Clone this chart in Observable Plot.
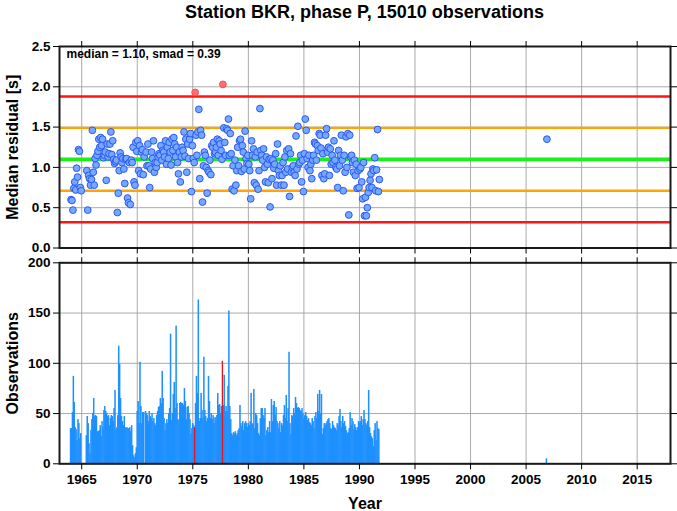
<!DOCTYPE html>
<html>
<head>
<meta charset="utf-8">
<script src="https://cdn.jsdelivr.net/npm/d3@7"></script>
<script src="https://cdn.jsdelivr.net/npm/@observablehq/plot@0.6"></script>
<style>
  html, body { margin: 0; padding: 0; background: #fff; }
  #wrap { width: 677px; height: 511px; position: relative; overflow: hidden; font-family: "Liberation Sans", Arial, Helvetica, sans-serif; }
  #title { width: 625px; padding-left: 52px; height: 26px; line-height: 25px; text-align: center; font-weight: bold; font-size: 18px; color: #000; }
  svg { display: block; }
</style>
</head>
<body>
<div id="wrap">
  <div id="title">Station BKR, phase P, 15010 observations</div>
  <div id="top"></div>
  <div id="bottom"></div>
</div>
<script>
// ---------------- DATA ----------------
const titleText = "Station BKR, phase P, 15010 observations";
const startYear = 1964;           // first month of the monthly series (Jan 1964)
const median = 1.10;
const smad = 0.39;
const xTicks = [1965, 1970, 1975, 1980, 1985, 1990, 1995, 2000, 2005, 2010, 2015];
const resTicks = [0, 0.5, 1.0, 1.5, 2.0, 2.5];
const obsTicks = [0, 50, 100, 150, 200];

// monthly median residual [s] (null = no data), Jan 1964 .. Oct 1991
const residual = [
  0.60, 0.59, 0.47, 0.74, 0.82, 0.72, 0.99, 0.88, 1.22, 1.20, 0.75, 0.71, // 1964
  null, null, null, null, null, 0.96, 0.47, 0.90, 0.86, 0.78, 0.85, 1.46, // 1965
  0.94, 0.78, 1.11, 1.03, 1.15, 1.20, 1.35, 1.25, 1.37, 1.27, 1.35, 1.12, // 1966
  1.15, 1.19, 0.84, 1.29, 1.13, 1.17, 1.29, 1.44, 1.16, 1.33, 1.10, 1.05, // 1967
  1.07, 1.09, 0.44, 0.68, 0.96, 1.18, 1.13, 1.06, 1.11, 0.98, 0.80, 1.10, // 1968
  1.11, 0.62, 0.56, 1.06, 0.54, 1.09, 1.06, 1.25, 0.82, 0.78, 1.31, 1.20, // 1969
  1.33, 0.96, 1.27, 0.92, 1.19, 1.22, 0.91, 1.13, null, 1.19, 1.02, 1.29, // 1970
  1.02, 0.75, 0.98, 1.19, 1.11, 1.33, 0.94, 1.06, 1.00, 1.06, 1.13, 1.17, // 1971
  1.15, 1.27, 1.09, 1.21, 1.19, 1.13, 1.33, 1.04, 1.25, 1.11, 1.31, 1.19, // 1972
  1.03, 1.35, 1.21, 1.37, 1.29, 1.13, 1.25, 1.06, 0.92, 1.19, 0.82, 1.13, // 1973
  1.25, 1.21, 1.44, 1.14, 1.35, 0.94, 1.29, 1.11, 1.35, 1.42, 0.70, 1.27, // 1974
  1.11, 1.06, 1.93, 1.40, 1.15, 1.44, 1.72, 0.86, 1.46, 1.40, 0.57, 1.02, // 1975
  1.19, 1.15, 1.00, 0.68, 0.96, 0.94, 1.09, 0.91, 1.27, 1.25, 1.31, 1.17, // 1976
  1.19, 1.25, 1.35, 1.15, 1.33, 1.29, 1.21, 1.10, 2.03, 1.49, 1.31, 1.15, // 1977
  1.48, 1.46, 1.60, 1.15, 1.42, 1.17, 0.73, 1.02, 0.71, 1.09, 0.78, 0.96, // 1978
  1.25, 1.02, 1.33, 1.35, 0.95, 1.27, 1.19, 0.98, 1.45, 1.11, 1.05, 1.15, // 1979
  1.04, 0.96, 0.61, 1.33, 1.15, 1.23, 0.81, 1.13, 0.78, 1.19, 0.73, 0.96, // 1980
  1.73, 1.21, 1.15, 1.09, 1.23, 1.00, 0.82, 1.13, 1.04, 0.81, 1.10, 0.51, // 1981
  1.11, 0.86, 1.09, 0.99, 1.04, 1.17, 0.78, 1.29, 0.96, 0.90, 1.02, 0.78, // 1982
  0.90, 1.06, 0.78, 1.13, 0.94, 1.21, 0.98, 1.23, 0.64, 1.17, 0.94, 1.00, // 1983
  1.02, 0.94, 0.90, 1.39, 0.98, 1.51, 1.04, 1.06, 1.15, 0.82, 1.09, 0.70, // 1984
  1.17, 1.60, 1.46, 1.11, 1.00, 1.15, 0.96, 1.04, 0.86, 1.09, 1.15, 1.31, // 1985
  1.29, 1.09, 1.27, 1.21, 1.42, 1.40, 1.24, 0.90, 1.17, 0.86, 0.92, 1.40, // 1986
  1.48, 1.19, 1.25, 0.90, 1.23, 1.04, 1.15, 1.06, 1.33, 1.09, 1.00, 0.98, // 1987
  0.75, 1.21, 1.02, 1.15, 1.40, 1.09, 0.71, 1.15, 0.94, 1.38, 1.00, 1.42, // 1988
  0.41, 1.40, 1.13, 1.15, 1.06, 0.94, 1.09, 0.90, 1.04, 0.74, 0.96, 0.75, // 1989
  0.98, 1.00, 0.82, 0.61, 1.06, 0.40, 0.63, 0.40, 0.50, 0.69, 0.75, 0.84, // 1990
  0.92, 0.75, 0.98, 0.96, 1.12, 0.71, 0.97, 1.47, 0.70, 0.85              // 1991
];

// monthly number of observations, Jan 1964 .. Oct 1991
const observations = [
  35, 35, 51, 87, 61, 36, 34, 23, 44, 40, 25, 30,   // 1964
  0, 0, 0, 0, 0, 28, 47, 40, 20, 10, 33, 44,        // 1965
  50, 65, 47, 48, 47, 32, 32, 33, 38, 27, 42, 36,   // 1966
  53, 57, 52, 50, 47, 48, 38, 45, 48, 47, 42, 55,   // 1967
  73, 34, 36, 48, 117, 99, 65, 47, 42, 38, 47, 36,  // 1968
  35, 36, 35, 35, 36, 32, 38, 18, 8, 6, 10, 16,     // 1969
  52, 62, 40, 101, 57, 40, 51, 51, 0, 52, 50, 48,   // 1970
  42, 52, 47, 45, 50, 42, 45, 40, 38, 48, 52, 56,   // 1971
  57, 65, 60, 92, 65, 45, 33, 40, 44, 40, 50, 55,   // 1972
  129, 43, 50, 69, 81, 55, 137, 60, 44, 43, 60, 61, // 1973
  60, 60, 58, 75, 62, 44, 56, 57, 50, 44, 29, 35,   // 1974
  40, 38, 36, 60, 87, 70, 163, 42, 45, 70, 53, 45,  // 1975
  106, 53, 47, 42, 45, 87, 62, 45, 50, 44, 48, 40,  // 1976
  46, 45, 48, 70, 58, 59, 50, 57, 102, 58, 88, 52,  // 1977
  57, 52, 77, 152, 57, 44, 30, 28, 31, 30, 32, 28,  // 1978
  30, 33, 35, 58, 40, 37, 42, 33, 40, 42, 40, 36,   // 1979
  40, 38, 42, 70, 40, 39, 74, 35, 50, 48, 40, 30,   // 1980
  28, 45, 55, 55, 48, 45, 55, 28, 33, 36, 31, 42,   // 1981
  31, 64, 42, 58, 62, 48, 56, 42, 40, 35, 42, 31,   // 1982
  40, 38, 48, 58, 45, 68, 42, 55, 111, 40, 29, 48,  // 1983
  47, 55, 50, 66, 60, 55, 56, 55, 53, 52, 55, 50,   // 1984
  45, 48, 51, 47, 43, 45, 41, 40, 38, 45, 42, 35,   // 1985
  47, 51, 45, 69, 52, 73, 50, 69, 29, 35, 40, 38,   // 1986
  40, 42, 44, 45, 40, 35, 34, 42, 38, 36, 35, 33,   // 1987
  40, 38, 47, 54, 42, 36, 47, 40, 42, 37, 33, 30,   // 1988
  31, 35, 51, 38, 45, 42, 34, 39, 36, 33, 36, 42,   // 1989
  40, 42, 47, 38, 44, 53, 44, 40, 38, 42, 73, 36,   // 1990
  30, 27, 25, 17, 33, 40, 23, 42, 35, 34            // 1991
];

// isolated later month
const lateYear = 2006, lateMonth = 10, lateResidual = 1.35, lateObservations = 5;

// ---------------- BUILD ----------------
const rows = residual.map((r, i) => ({t: startYear + i / 12, r, n: observations[i]}));
rows.push({t: lateYear + lateMonth / 12, r: lateResidual, n: lateObservations});
const isOut = d => d.r != null && Math.abs(d.r - median) > 2 * smad;
const pts = rows.filter(d => d.r != null);
const bars = rows.filter(d => d.n > 0);

const FONT = '"Liberation Sans", Arial, Helvetica, sans-serif';
const xDomain = [1963, 2018];
const blank = () => "";

const topPlot = Plot.plot({
  width: 677, height: 230,
  marginTop: 20, marginBottom: 8.5, marginLeft: 59, marginRight: 7,
  style: {fontFamily: FONT, fontSize: "13.5px", fontWeight: "bold", color: "#000", background: "#fff"},
  x: {domain: xDomain, axis: null},
  y: {domain: [0, 2.5], axis: null},
  marks: [
    Plot.ruleX(xTicks, {stroke: "#a0a0a0", strokeWidth: 0.9}),
    Plot.ruleY(resTicks, {stroke: "#a0a0a0", strokeWidth: 0.9}),
    Plot.ruleY([median - 2 * smad, median + 2 * smad], {stroke: "#ff1414", strokeWidth: 2.4}),
    Plot.ruleY([median - smad, median + smad], {stroke: "#ffa500", strokeWidth: 2.4}),
    Plot.ruleY([median], {stroke: "#18f018", strokeWidth: 3.6}),
    Plot.dot(pts.filter(d => !isOut(d)), {x: d => d.t + 1 / 24, y: "r", r: 3.4, fill: "#74a9ff", stroke: "#2c58f5", strokeWidth: 1}),
    Plot.dot(pts.filter(isOut), {x: d => d.t + 1 / 24, y: "r", r: 3.4, fill: "#ff7272", stroke: "#ff4a4a", strokeWidth: 1}),
    Plot.frame({stroke: "#1a1a1a", strokeWidth: 2}),
    Plot.axisY(resTicks, {anchor: "left", tickSize: 6, tickPadding: 3, tickFormat: d3.format(".1f"), label: null}),
    Plot.axisY(resTicks, {anchor: "right", tickSize: 6, tickFormat: blank, label: null}),
    Plot.axisX(xTicks, {anchor: "bottom", tickSize: 6, tickFormat: blank, label: null}),
    Plot.axisX(xTicks, {anchor: "top", tickSize: 6, tickFormat: blank, label: null}),
    Plot.text([`median = ${median.toFixed(2)}, smad = ${smad.toFixed(2)}`], {frameAnchor: "top-left", dx: 7, dy: 8, textAnchor: "start", lineAnchor: "middle", fontSize: 12, fontWeight: "bold"}),
    Plot.text(["Median residual [s]"], {frameAnchor: "left", dx: -47, rotate: -90, textAnchor: "middle", lineAnchor: "middle", fontSize: 16, fontWeight: "bold"})
  ]
});

const bottomPlot = Plot.plot({
  width: 677, height: 255,
  marginTop: 6.3, marginBottom: 47.7, marginLeft: 59, marginRight: 7,
  style: {fontFamily: FONT, fontSize: "13.5px", fontWeight: "bold", color: "#000", background: "#fff"},
  x: {domain: xDomain, axis: null},
  y: {domain: [0, 200], axis: null},
  marks: [
    Plot.ruleX(xTicks, {stroke: "#a0a0a0", strokeWidth: 0.9}),
    Plot.ruleY(obsTicks, {stroke: "#a0a0a0", strokeWidth: 0.9}),
    Plot.rect(bars.filter(d => !isOut(d)), {x1: "t", x2: d => d.t + 1 / 12, y1: 0, y2: "n", fill: "#1e90ff", insetLeft: -0.3, insetRight: -0.3}),
    Plot.rect(bars.filter(isOut), {x1: "t", x2: d => d.t + 1 / 12, y1: 0, y2: "n", fill: "#e8141c", insetLeft: -0.2, insetRight: -0.2}),
    Plot.frame({stroke: "#1a1a1a", strokeWidth: 2}),
    Plot.axisY(obsTicks, {anchor: "left", tickSize: 6, tickPadding: 3, tickFormat: d3.format("d"), label: null}),
    Plot.axisY(obsTicks, {anchor: "right", tickSize: 6, tickFormat: blank, label: null}),
    Plot.axisX(xTicks, {anchor: "bottom", tickSize: 6, tickPadding: 5, tickFormat: d3.format("d"), label: null}),
    Plot.axisX(xTicks, {anchor: "top", tickSize: 6, tickFormat: blank, label: null}),
    Plot.text(["Observations"], {frameAnchor: "left", dx: -47, rotate: -90, textAnchor: "middle", lineAnchor: "middle", fontSize: 16, fontWeight: "bold"}),
    Plot.text(["Year"], {frameAnchor: "bottom", dy: 40, textAnchor: "middle", lineAnchor: "middle", fontSize: 16, fontWeight: "bold"})
  ]
});

document.getElementById("title").textContent = titleText;
document.getElementById("top").appendChild(topPlot);
document.getElementById("bottom").appendChild(bottomPlot);
</script>
</body>
</html>
